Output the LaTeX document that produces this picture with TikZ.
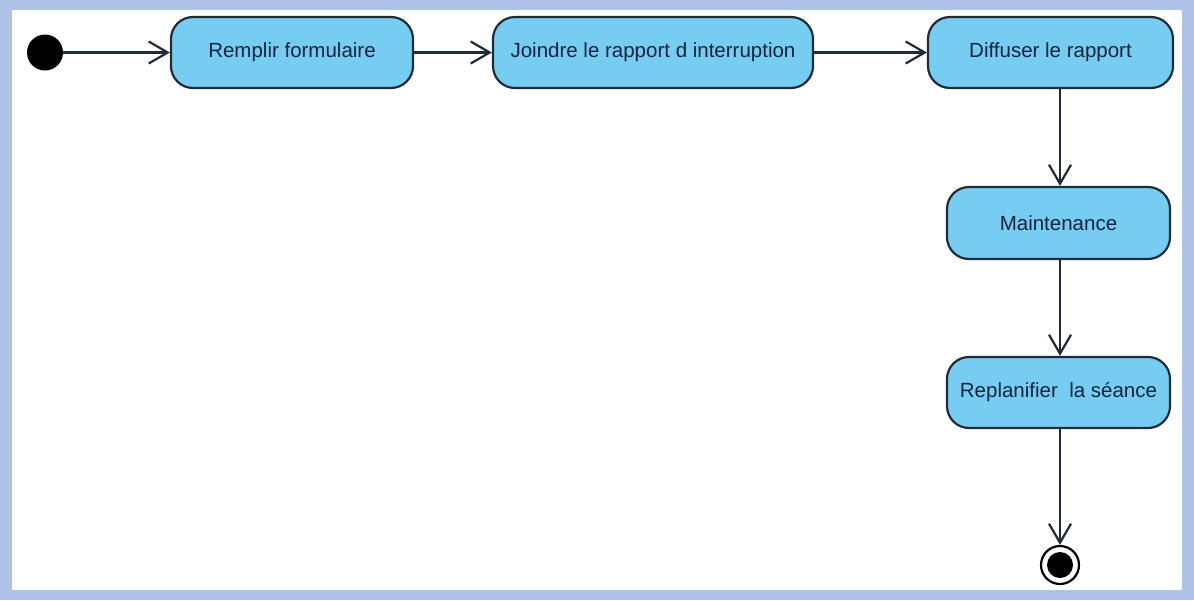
\documentclass[tikz,border=0pt]{standalone}
\usepackage{fontspec}
\setmainfont{Liberation Sans}
\usetikzlibrary{arrows.meta}
\definecolor{framecol}{RGB}{172,194,230}
\definecolor{actfill}{RGB}{118,205,241}
\definecolor{actline}{RGB}{30,44,58}
\definecolor{acttext}{RGB}{22,36,62}
\tikzset{
  activity/.style={draw=actline, line width=2.2pt, fill=actfill, rounded corners=22pt,
    minimum height=71pt, text=acttext, font=\fontsize{20.5}{24}\selectfont, inner sep=0pt},
  flow/.style={draw=actline, line width=2.2pt,
    -{Straight Barb[length=19pt,width=22pt,line width=2.2pt]}},
}
\begin{document}
\begin{tikzpicture}[x=1pt,y=-1pt]
  % frame
  \fill[framecol] (0,0) rectangle (1194,600);
  \fill[white] (12,10) rectangle (1182,590);
  \useasboundingbox (0,0) rectangle (1194,600);

  % initial state
  \node[circle, fill=black, minimum size=36pt, inner sep=0pt] (debut) at (45,52.5) {};

  % activities
  \node[activity, minimum width=242pt] (remplir) at (292,52.5) {Remplir formulaire};
  \node[activity, minimum width=320pt] (joindre) at (653,52.5) {Joindre le rapport d interruption};
  \node[activity, minimum width=245pt] (diffuser) at (1050.5,52.5) {Diffuser le rapport};
  \node[activity, minimum width=223pt, minimum height=72pt] (maint) at (1058.5,223) {Maintenance};
  \node[activity, minimum width=223pt] (replan) at (1058.5,392.5) {Replanifier\ \ la séance};

  % final state
  \node[circle, draw=black, line width=2.2pt, fill=white, minimum size=38pt, inner sep=0pt] (fin) at (1060,565) {};
  \fill[black] (fin.center) circle (13pt);

  % control flows
  \draw[flow] (debut.east) -- (remplir.west);
  \draw[flow] (remplir.east) -- (joindre.west);
  \draw[flow] (joindre.east) -- (diffuser.west);
  \draw[flow] (diffuser.south -| fin) -- (maint.north -| fin);
  \draw[flow] (maint.south -| fin) -- (replan.north -| fin);
  \draw[flow] (replan.south -| fin) -- (fin.north);
\end{tikzpicture}
\end{document}
